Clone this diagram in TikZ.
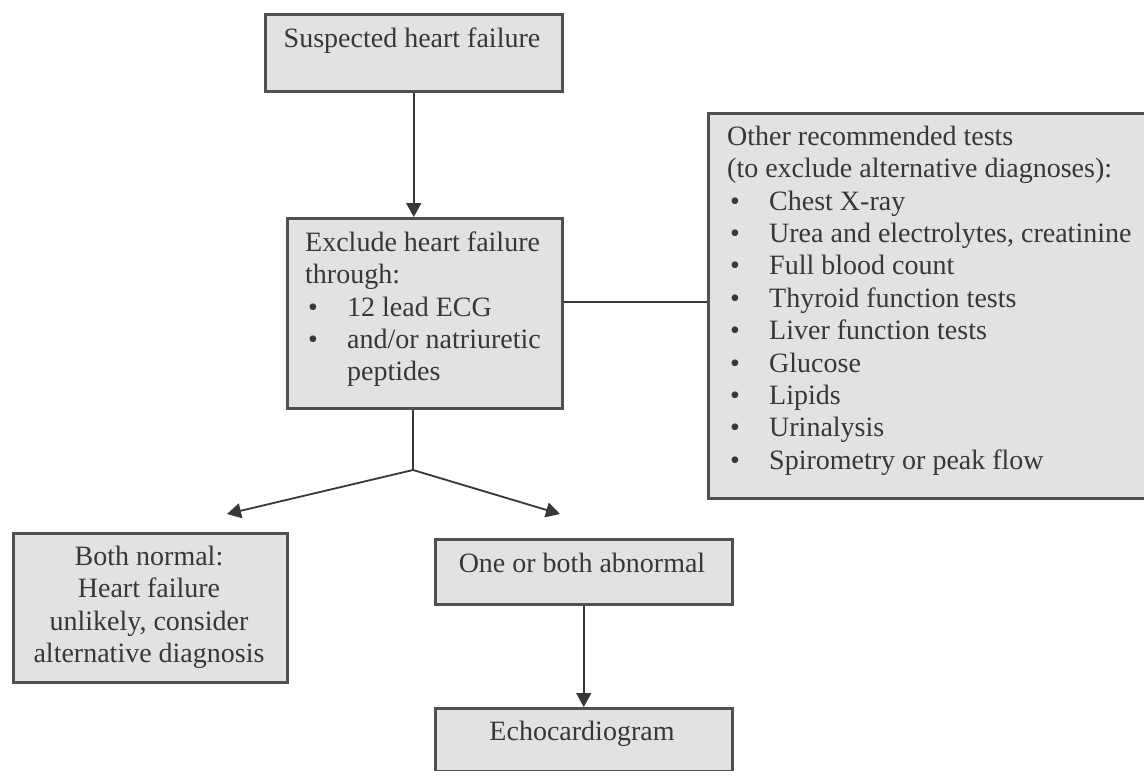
\documentclass[tikz,border=0pt]{standalone}
\usepackage{fontspec}
\setmainfont{Liberation Serif}
\usetikzlibrary{arrows.meta}
\definecolor{boxfill}{RGB}{226,226,229}
\definecolor{boxline}{RGB}{80,80,80}
\definecolor{txt}{RGB}{55,55,55}
\definecolor{arr}{RGB}{55,55,55}
\newcommand{\bul}{\makebox[42pt][l]{\hspace{3pt}\textbullet}}
\begin{document}
\begin{tikzpicture}[x=1pt,y=-1pt,
  boxnode/.style={draw=boxline, fill=boxfill, line width=2.5pt, inner sep=0pt, anchor=north west},
  txtnode/.style={inner sep=0pt, text=txt, font=\fontsize{28}{32.4}\selectfont},
  plainline/.style={draw=arr, line width=1.8pt},
  arrowline/.style={plainline, -{Triangle[length=14pt,width=15pt]}}]
\useasboundingbox (0,0) rectangle (1144,771);
\fill[white] (0,0) rectangle (1144,771);
% boxes
\node[boxnode, minimum width=297pt, minimum height=77pt] (suspect) at (264,13) {};
\node[boxnode, minimum width=275pt, minimum height=190pt] (exclude) at (286,217) {};
\node[boxnode, minimum width=442pt, minimum height=385pt] (other) at (707,112) {};
\node[boxnode, minimum width=274pt, minimum height=149pt] (normal) at (12,532) {};
\node[boxnode, minimum width=297pt, minimum height=65pt] (abnormal) at (434,538) {};
\node[boxnode, minimum width=297pt, minimum height=63pt] (echo) at (434,707) {};
% texts
\node[txtnode, anchor=north, align=center] (t1) at (412,25) {\rule{0pt}{22pt}Suspected heart failure};
\node[txtnode, anchor=north west, align=left] (t2) at (305,229) {\rule{0pt}{22pt}Exclude heart failure\\through:\\\bul 12 lead ECG\\\bul and/or natriuretic\\\hspace*{42pt}peptides};
\node[txtnode, anchor=north west, align=left] (t3) at (727,123) {\rule{0pt}{22pt}Other recommended tests\\(to exclude alternative diagnoses):\\\bul Chest X-ray\\\bul Urea and electrolytes, creatinine\\\bul Full blood count\\\bul Thyroid function tests\\\bul Liver function tests\\\bul Glucose\\\bul Lipids\\\bul Urinalysis\\\bul Spirometry or peak flow};
\node[txtnode, anchor=north, align=center] (t4) at (149,543) {\rule{0pt}{22pt}Both normal:\\Heart failure\\unlikely, consider\\alternative diagnosis};
\node[txtnode, anchor=north, align=center] (t5) at (582,550) {\rule{0pt}{22pt}One or both abnormal};
\node[txtnode, anchor=north, align=center] (t6) at (582,718) {\rule{0pt}{22pt}Echocardiogram};
% connectors
\coordinate (fork) at (413,470);
\coordinate (tipL) at (227,514);
\coordinate (tipR) at (560,514);
\draw[arrowline] (suspect.south) -- (suspect.south |- exclude.north);
\draw[plainline] ([yshift=4pt]other.west -| exclude.east) -- ([yshift=4pt]other.west);
\draw[plainline] (fork |- exclude.south) -- (fork);
\draw[arrowline] (fork) -- (tipL);
\draw[arrowline] (fork) -- (tipR);
\draw[arrowline] (abnormal.south) -- (echo.north);
\end{tikzpicture}
\end{document}
